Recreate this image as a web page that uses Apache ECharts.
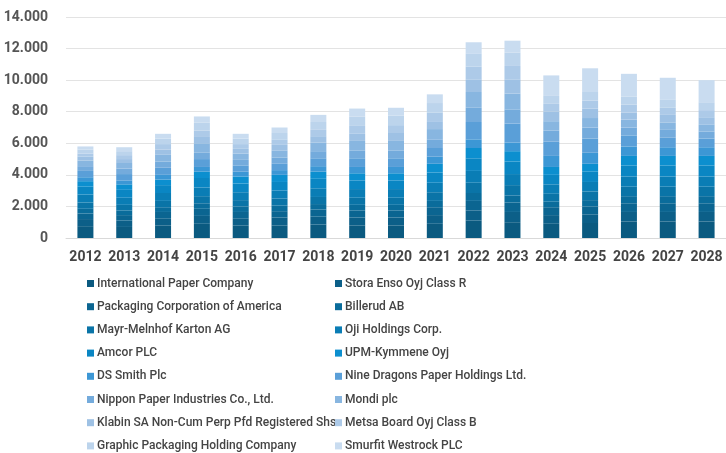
<!DOCTYPE html>
<html>
<head>
<meta charset="utf-8">
<script src="https://cdn.jsdelivr.net/npm/echarts@6/dist/echarts.min.js"></script>
<style>
  html, body { margin: 0; padding: 0; background: #fff; }
  #chart { width: 726px; height: 453px; }
</style>
</head>
<body>
<div id="chart"></div>
<script>
const years = ['2012', '2013', '2014', '2015', '2016', '2017', '2018', '2019', '2020', '2021', '2022', '2023', '2024', '2025', '2026', '2027', '2028']
const yTicks = [0, 2000, 4000, 6000, 8000, 10000, 12000, 14000]

// bottom to top, in legend order
const internationalPaper = [750, 700, 800, 900, 800, 800, 850, 800, 800, 900, 1100, 1000, 900, 950, 1050, 1050, 1050]
const storaEnso = [450, 400, 450, 500, 450, 500, 500, 500, 500, 550, 650, 650, 550, 550, 600, 600, 600]
const packagingCorp = [350, 350, 400, 450, 400, 400, 450, 450, 450, 500, 600, 600, 500, 500, 550, 550, 550]
const billerud = [300, 300, 300, 350, 350, 350, 350, 350, 350, 400, 500, 450, 350, 400, 450, 450, 450]
const mayrMelnhof = [400, 350, 400, 450, 400, 450, 450, 450, 450, 550, 650, 650, 500, 550, 600, 600, 600]
const ojiHoldings = [500, 450, 500, 550, 500, 500, 550, 550, 550, 600, 750, 700, 600, 600, 650, 650, 650]
const amcor = [500, 500, 500, 600, 550, 550, 600, 550, 550, 650, 800, 800, 600, 650, 700, 700, 700]
const upmKymmene = [350, 350, 350, 400, 450, 450, 450, 450, 450, 550, 650, 650, 500, 500, 600, 600, 600]
const dsSmith = [250, 250, 300, 300, 300, 300, 350, 400, 400, 450, 550, 550, 700, 700, 600, 550, 550]
const nineDragons = [400, 400, 450, 500, 400, 400, 500, 550, 550, 550, 1100, 1200, 900, 900, 700, 600, 550]
const nipponPaper = [300, 350, 400, 400, 350, 400, 450, 500, 500, 550, 900, 900, 700, 700, 500, 500, 450]
const mondi = [350, 350, 450, 600, 400, 450, 550, 600, 600, 650, 1000, 1000, 600, 600, 500, 450, 450]
const klabin = [250, 250, 300, 400, 300, 350, 400, 450, 500, 500, 800, 900, 600, 600, 450, 500, 450]
const metsaBoard = [200, 250, 350, 400, 300, 350, 400, 500, 500, 550, 800, 850, 500, 500, 500, 450, 450]
const graphicPackaging = [250, 250, 350, 500, 350, 400, 500, 600, 600, 600, 850, 850, 500, 550, 500, 500, 500]
const smurfitWestrock = [200, 250, 300, 400, 300, 350, 450, 500, 500, 550, 700, 750, 1300, 1500, 1450, 1400, 1400]

const seriesList = [
  { name: 'International Paper Company', data: internationalPaper, color: '#0b5a80' },
  { name: 'Stora Enso Oyj Class R', data: storaEnso, color: '#0c5f88' },
  { name: 'Packaging Corporation of America', data: packagingCorp, color: '#0b6591' },
  { name: 'Billerud AB', data: billerud, color: '#0a6c9b' },
  { name: 'Mayr-Melnhof Karton AG', data: mayrMelnhof, color: '#0a74a7' },
  { name: 'Oji Holdings Corp.', data: ojiHoldings, color: '#0a7db5' },
  { name: 'Amcor PLC', data: amcor, color: '#0a86c3' },
  { name: 'UPM-Kymmene Oyj', data: upmKymmene, color: '#0c8fcf' },
  { name: 'DS Smith Plc', data: dsSmith, color: '#3c97d5' },
  { name: 'Nine Dragons Paper Holdings Ltd.', data: nineDragons, color: '#5a9fd8' },
  { name: 'Nippon Paper Industries Co., Ltd.', data: nipponPaper, color: '#74abdc' },
  { name: 'Mondi plc', data: mondi, color: '#88b6e0' },
  { name: 'Klabin SA Non-Cum Perp Pfd Registered Shs', data: klabin, color: '#9ec1e4' },
  { name: 'Metsa Board Oyj Class B', data: metsaBoard, color: '#adcae8' },
  { name: 'Graphic Packaging Holding Company', data: graphicPackaging, color: '#bcd4ec' },
  { name: 'Smurfit Westrock PLC', data: smurfitWestrock, color: '#c9dcf0' }
]

const fontFamily = 'Roboto, sans-serif'
const textColor = '#444'

const fmt = (v) => String(v).replace(/\B(?=(\d{3})+(?!\d))/g, '.')

const legendBase = {
  orient: 'vertical',
  top: 276,
  height: 180,
  padding: 0,
  icon: 'rect',
  itemWidth: 7,
  itemHeight: 7,
  itemGap: 8.2,
  textStyle: { color: textColor, fontFamily, fontSize: 12, fontWeight: 500, lineHeight: 15, padding: [0, 0, 0, -2] }
}

const chart = echarts.init(document.getElementById('chart'))
chart.setOption({
  animation: false,
  textStyle: { fontFamily },
  legend: [
    { ...legendBase, left: 87, data: seriesList.filter((s, i) => i % 2 === 0).map(s => s.name) },
    { ...legendBase, left: 335, data: seriesList.filter((s, i) => i % 2 === 1).map(s => s.name) }
  ],
  grid: { left: 66, right: -3, top: 17, bottom: 215, containLabel: false },
  xAxis: {
    type: 'category',
    data: years,
    axisLine: { show: true, lineStyle: { color: '#d9d9d9' } },
    axisTick: { show: false },
    axisLabel: { color: textColor, fontSize: 14, fontWeight: 'bold', margin: 12, interval: 0, fontFamily }
  },
  yAxis: {
    type: 'value',
    min: yTicks[0],
    max: yTicks[yTicks.length - 1],
    interval: 2000,
    splitLine: { lineStyle: { color: '#e3e3e3' } },
    axisLabel: { color: '#555', fontSize: 14, fontWeight: 'bold', margin: 18, fontFamily, formatter: fmt }
  },
  series: seriesList.map(s => ({
    name: s.name,
    type: 'bar',
    stack: 'total',
    barWidth: 16,
    itemStyle: { color: s.color },
    data: s.data
  }))
})
</script>
</body>
</html>
